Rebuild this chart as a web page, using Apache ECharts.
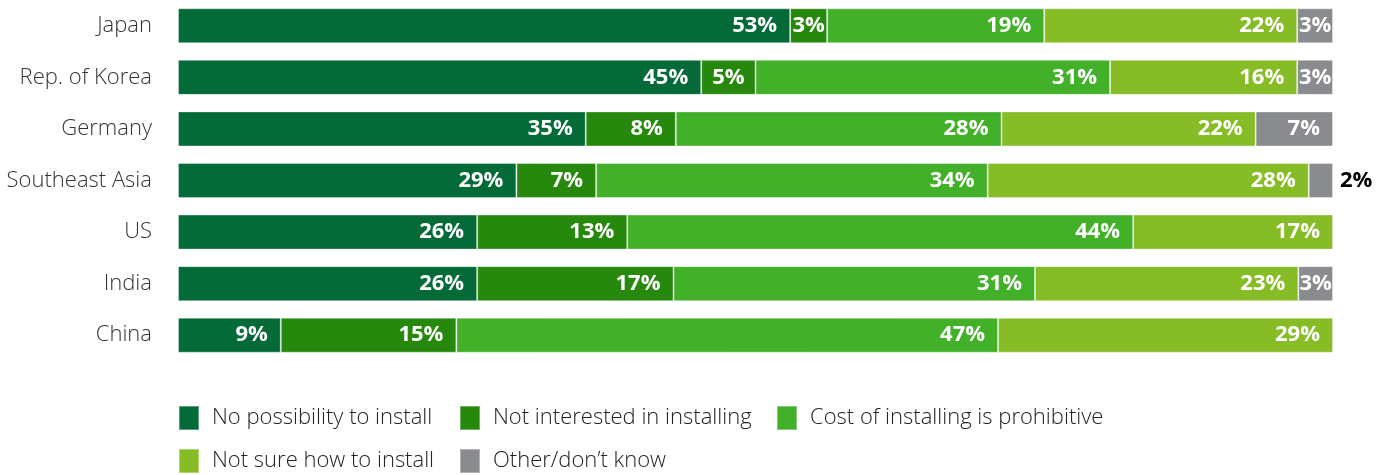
<!DOCTYPE html>
<html><head><meta charset="utf-8">
<script src="https://cdn.jsdelivr.net/npm/echarts@6/dist/echarts.min.js"></script>
<style>html,body{margin:0;padding:0;background:#fff}#c{width:1381px;height:475px}</style>
</head><body><div id="c"></div>
<script>
const categories = ['Japan','Rep. of Korea','Germany','Southeast Asia','US','India','China'];
const seriesNames = ['No possibility to install','Not interested in installing','Cost of installing is prohibitive','Not sure how to install','Other/don\u2019t know'];
const noPossibility = [53.0, 45.3, 35.3, 29.3, 25.9, 25.9, 8.9];
const notInterested = [3.2, 4.7, 7.8, 6.9, 13.0, 17.0, 15.2];
const costProhibitive = [18.8, 30.7, 28.2, 33.9, 43.8, 31.3, 46.9];
const notSure = [21.9, 16.2, 22.0, 27.8, 17.3, 22.8, 29.0];
const otherDontKnow = [3.1, 3.1, 6.7, 2.1, 0, 3.0, 0];
const colors = ['#046A38','#26890D','#43B02A','#86BC25','#898B8E'];

const allData = [noPossibility, notInterested, costProhibitive, notSure, otherDontKnow];
const FONT = '"Open Sans", "Noto Sans", sans-serif';

function makeData(arr) {
  return arr.map(v => {
    if (v === 0) return { value: null };
    const item = { value: v };
    if (v < 2.6) {
      item.label = { position: 'right', distance: 7, color: '#000' };
    } else if (v < 6) {
      item.label = { position: 'inside' };
    }
    return item;
  });
}

const series = allData.map((arr, si) => ({
  name: seriesNames[si],
  type: 'bar',
  stack: 'total',
  barWidth: 35,
  data: makeData(arr),
  itemStyle: { color: colors[si], borderColor: 'rgba(255,255,255,0.35)', borderWidth: 1 },
  label: {
    show: true,
    position: 'insideRight',
    distance: 13,
    color: '#fff',
    fontFamily: FONT,
    fontWeight: 'bold',
    fontSize: 22,
    formatter: p => Math.round(p.value) + '%'
  },
  emphasis: { disabled: true }
}));

const legendPos = [[178, 405], [459, 405], [776, 405], [178, 448], [459, 448]];
const legends = seriesNames.map((n, i) => ({
  data: [n],
  left: legendPos[i][0],
  top: legendPos[i][1],
  orient: 'horizontal',
  icon: 'rect',
  itemWidth: 20,
  itemHeight: 24,
  selectedMode: false,
  padding: 0,
  textStyle: { fontFamily: FONT, fontSize: 22, fontWeight: 300, color: '#222', padding: [0, 0, 0, 8] }
}));

const chart = echarts.init(document.getElementById('c'));
chart.setOption({
  animation: false,
  color: colors,
  grid: { left: 178, right: 48, top: -3, bottom: 114 },
  xAxis: { type: 'value', min: 0, max: 100, show: false },
  yAxis: {
    type: 'category',
    data: categories,
    inverse: true,
    axisLine: { show: false },
    axisTick: { show: false },
    axisLabel: { fontFamily: FONT, fontSize: 22, fontWeight: 300, color: '#333', margin: 26 }
  },
  legend: legends,
  series: series
});
</script>
</body></html>
